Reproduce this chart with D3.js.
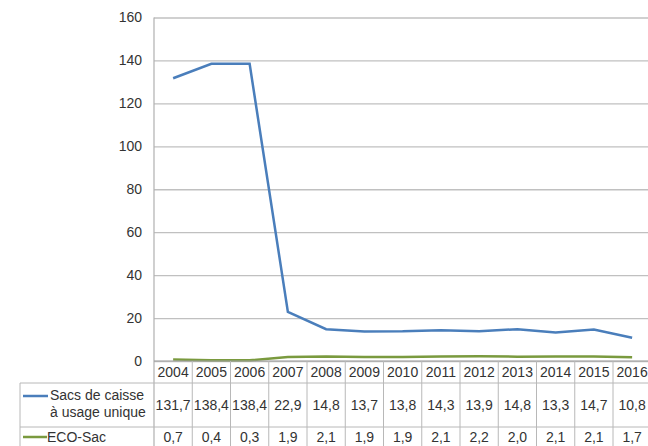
<!DOCTYPE html>
<html>
<head>
    <script src="https://cdn.jsdelivr.net/npm/d3@7/dist/d3.min.js"></script>
    <style>
        body { margin: 0; background: #fff; }
        text { font-family: "Liberation Sans", Arial, sans-serif; fill: #333; }
    </style>
</head>
<body>
<svg width="648" height="446"></svg>

<script>
    const years = ["2004", "2005", "2006", "2007", "2008", "2009", "2010", "2011", "2012", "2013", "2014", "2015", "2016"];
    const sacsCaisse = [131.7, 138.4, 138.4, 22.9, 14.8, 13.7, 13.8, 14.3, 13.9, 14.8, 13.3, 14.7, 10.8];
    const ecoSac = [0.7, 0.4, 0.3, 1.9, 2.1, 1.9, 1.9, 2.1, 2.2, 2.0, 2.1, 2.1, 1.7];
    const yTicks = [0, 20, 40, 60, 80, 100, 120, 140, 160];

    const series = [
        { name: ["Sacs de caisse", "à usage unique"], values: sacsCaisse, color: "#4a7ebb" },
        { name: ["ECO-Sac"], values: ecoSac, color: "#7a9a3e" }
    ];

    const svg = d3.select("svg");
    const plotLeft = 154, plotTop = 17.5, plotBottom = 361, colW = 38.25;
    const plotRight = plotLeft + colW * years.length;

    const x = d3.scaleBand().domain(years).range([plotLeft, plotRight]);
    const y = d3.scaleLinear().domain([0, 160]).range([plotBottom, plotTop]);

    // gridlines + y labels
    const yAxis = svg.append("g")
        .attr("transform", `translate(${plotLeft},0)`)
        .call(d3.axisLeft(y).tickValues(yTicks).tickSize(-(plotRight - plotLeft)).tickPadding(12).tickFormat(d3.format("d")));
    yAxis.select(".domain").remove();
    yAxis.selectAll(".tick line").attr("stroke", "#c0c0c0").attr("stroke-width", 1.3);
    yAxis.selectAll(".tick text").attr("font-size", "14px").style("fill", "#333")
        .attr("font-family", "Liberation Sans, Arial, sans-serif");

    // plot left edge
    svg.append("line").attr("x1", plotLeft).attr("x2", plotLeft).attr("y1", plotTop).attr("y2", 446)
        .attr("stroke", "#b0b0b0").attr("stroke-width", 1.2);

    // lines
    const line = d3.line()
        .x((d, i) => x(years[i]) + x.bandwidth() / 2)
        .y(d => y(d));
    series.forEach(s => {
        svg.append("path")
            .attr("d", line(s.values))
            .attr("fill", "none")
            .attr("stroke", s.color)
            .attr("stroke-width", 2.5);
    });

    // data table
    const grid = "#b8b8b8";
    svg.append("line").attr("x1", plotLeft).attr("x2", plotRight).attr("y1", plotBottom).attr("y2", plotBottom).attr("stroke", "#a0a0a0");
    [383, 427].forEach(yy => {
        svg.append("line").attr("x1", 20).attr("x2", plotRight).attr("y1", yy).attr("y2", yy).attr("stroke", grid);
    });
    svg.append("line").attr("x1", 20).attr("x2", 20).attr("y1", 383).attr("y2", 446).attr("stroke", grid);
    // vertical column lines
    svg.selectAll(".col")
        .data(years)
        .enter().append("line")
        .attr("x1", d => x(d) + colW)
        .attr("x2", d => x(d) + colW)
        .attr("y1", plotBottom)
        .attr("y2", 446)
        .attr("stroke", grid);

    // year labels
    svg.selectAll(".yr")
        .data(years)
        .enter().append("text")
        .attr("x", d => x(d) + colW / 2)
        .attr("y", 377)
        .attr("text-anchor", "middle")
        .attr("font-size", "14px")
        .text(d => d);

    const fmt = v => d3.format(".1f")(v).replace(".", ",");
    const valueY = [410, 442];
    series.forEach((s, si) => {
        svg.selectAll(".v" + si)
            .data(s.values)
            .enter().append("text")
            .attr("x", (d, i) => x(years[i]) + colW / 2)
            .attr("y", valueY[si])
            .attr("text-anchor", "middle")
            .attr("font-size", "14px")
            .text(d => fmt(d));
    });

    // legend cells
    svg.append("line").attr("x1", 23).attr("x2", 48).attr("y1", 396).attr("y2", 396)
        .attr("stroke", series[0].color).attr("stroke-width", 2.5);
    svg.append("text").attr("x", 50).attr("y", 400).attr("font-size", "14px").text(series[0].name[0]);
    svg.append("text").attr("x", 50).attr("y", 417).attr("font-size", "14px").text(series[0].name[1]);

    svg.append("line").attr("x1", 23).attr("x2", 47).attr("y1", 437).attr("y2", 437)
        .attr("stroke", series[1].color).attr("stroke-width", 2.5);
    svg.append("text").attr("x", 47).attr("y", 442).attr("font-size", "14px").text(series[1].name[0]);
</script>
</body>
</html>
